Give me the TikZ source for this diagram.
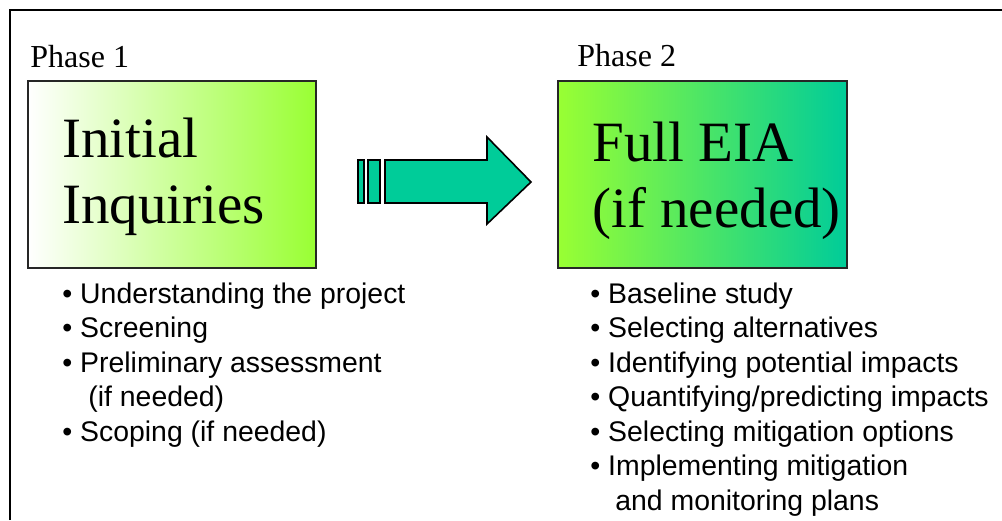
\documentclass[tikz,border=0pt]{standalone}
\usepackage{fontspec}
\setmainfont{Liberation Serif}
\setsansfont{Liberation Sans}
\definecolor{chartreuse}{HTML}{99FF33}
\definecolor{seagreen}{HTML}{00CC99}
\tikzset{
  phasebox/.style={draw=black!85, line width=0.8pt},
  phaselabel/.style={anchor=base west, inner sep=0pt, font=\fontsize{16}{19}\selectfont},
  titletext/.style={anchor=base west, inner sep=0pt, align=left, font=\fontsize{28.5}{33}\selectfont},
  listtext/.style={anchor=base west, inner sep=0pt, align=left, font=\sffamily\fontsize{14.2}{17.25}\selectfont},
}
\begin{document}
\begin{tikzpicture}[x=0.5pt,y=-0.5pt]
  \useasboundingbox (0,0) rectangle (1002,520);
  % frame
  \draw[line width=1pt] (10,520) -- (10,10) -- (1002,10);

  % phase 1 (multi-line nodes sit on the baseline of their last line)
  \node[phaselabel] (phaseone) at (30,67) {Phase 1};
  \draw[phasebox, left color=white, right color=chartreuse] (28,81) rectangle (316,268);
  \node[titletext] (inquiries) at (62,223) {Initial\\Inquiries};
  \node[listtext] (phaseonelist) at (62,441) {%
    \textbullet\ Understanding the project\\
    \textbullet\ Screening\\
    \textbullet\ Preliminary assessment\\
    \hspace*{13pt}(if needed)\\
    \textbullet\ Scoping (if needed)};

  % arrow between phases
  \draw[line width=0.8pt, fill=seagreen] (358,160) rectangle (364,203);
  \draw[line width=0.8pt, fill=seagreen] (368,160) rectangle (380,203);
  \draw[line width=0.8pt, fill=seagreen] (385,160) -- (487,160) -- (487,137)
    -- (531,182) -- (487,224) -- (487,203) -- (385,203) -- cycle;

  % phase 2
  \node[phaselabel] (phasetwo) at (577,66) {Phase 2};
  \draw[phasebox, left color=chartreuse, right color=seagreen] (558,81) rectangle (847,268);
  \node[titletext] (fulleia) at (592,227) {Full EIA\\(if needed)};
  \node[listtext] (phasetwolist) at (590,510) {%
    \textbullet\ Baseline study\\
    \textbullet\ Selecting alternatives\\
    \textbullet\ Identifying potential impacts\\
    \textbullet\ Quantifying/predicting impacts\\
    \textbullet\ Selecting mitigation options\\
    \textbullet\ Implementing mitigation\\
    \hspace*{12.5pt}and monitoring plans};
\end{tikzpicture}
\end{document}
